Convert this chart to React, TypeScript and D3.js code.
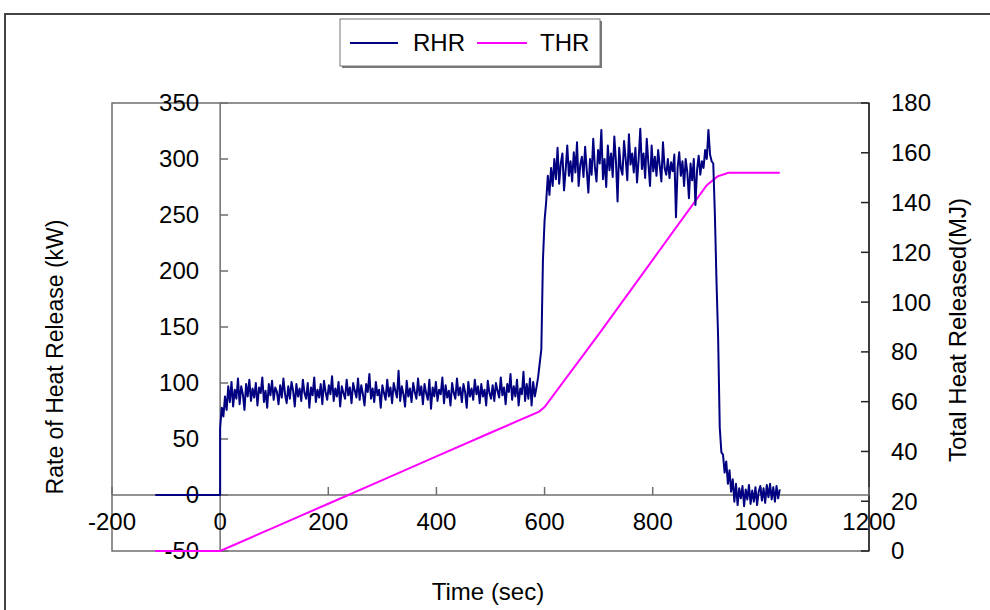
import React from "react";
import * as d3 from "d3";

const W = 990;
const H = 610;

// RHR pre-ignition segment (kW)
const rhrPreTimes = [-120, 0];
const rhrPreValues = [0, 0];

const rhrStep = 3;

// RHR low phase, t = 0 .. 588 s, every 3 s
const rhrLowStart = 0;
const rhrLow = [
  60, 78, 70, 88, 76, 97, 83, 101, 79, 94, 86, 104, 81, 97, 90, 76, 99, 88, 103, 84,
  95, 87, 100, 80, 96, 91, 105, 83, 93, 78, 99, 89, 102, 85, 96, 92, 81, 98, 87, 104,
  90, 82, 97, 86, 101, 93, 79, 99, 88, 95, 84, 103, 91, 86, 100, 78, 96, 89, 105, 83,
  94, 87, 99, 81, 102, 92, 85, 98, 90, 106, 84, 95, 88, 101, 79, 97, 91, 86, 103, 89,
  96, 82, 100, 93, 87, 104, 85, 98, 90, 80, 99, 92, 108, 86, 95, 83, 101, 89, 94, 78,
  98, 91, 85, 103, 88, 96, 82, 100, 93, 87, 111, 84, 97, 90, 79, 102, 88, 95, 83, 100,
  92, 86, 104, 89, 97, 81, 99, 91, 85, 103, 77, 96, 88, 101, 84, 94, 90, 105, 82, 98,
  87, 93, 80, 100, 91, 86, 104, 89, 96, 83, 99, 92, 78, 101, 88, 95, 85, 103, 90, 97,
  82, 99, 88, 94, 80, 102, 91, 86, 98, 84, 100, 93, 87, 105, 89, 96, 81, 99, 92, 108,
  85, 97, 88, 103, 80, 95, 90, 110, 84, 99, 86, 104, 80, 101, 88, 96, 105,
];

// RHR high phase, t = 594 .. 912 s, every 3 s
const rhrHighStart = 594;
const rhrHigh = [
  130, 210, 245, 262, 285, 268, 292, 276, 300, 282, 310, 278, 296, 305, 272, 290, 312, 285, 298, 280,
  306, 288, 315, 276, 295, 302, 284, 311, 290, 270, 300, 286, 318, 293, 280, 308, 296, 326, 282, 300,
  275, 312, 290, 305, 284, 320, 298, 262, 310, 292, 286, 316, 300, 281, 322, 295, 305, 288, 310, 279,
  300, 327, 291, 305, 283, 318, 296, 276, 312, 289, 302, 285, 308, 294, 280, 315, 292, 286, 300, 283,
  297, 289, 304, 248, 292, 306, 285, 298, 276, 300, 288, 265, 296, 281, 300, 259, 290, 303, 286, 298,
  292, 308, 300, 326, 304, 298, 296,
];

// RHR decay tail, t = 915 .. 1035 s, every 3 s
const rhrTailStart = 915;
const rhrTail = [
  250, 190, 140, 60, 38, 36, 20, 30, 10, 22, 3, 14, -6, 10, -9, 6, -3, 8, -10, 5,
  -4, 9, -8, 4, -6, 7, -9, 3, 8, -5, 6, -7, 9, -2, 10, -4, 7, -6, 8, -3, 5,
];

// THR (MJ) read at breakpoints
const thrTimes = [-120, 0, 100, 200, 300, 400, 500, 590, 600, 700, 800, 900, 920, 940, 1035];
const thrValues = [0, 0, 9.5, 19, 28.5, 38, 47.5, 56, 57.8, 87, 117, 147, 150.5, 152, 152];

const xTicks = [-200, 0, 200, 400, 600, 800, 1000, 1200];
const yLeftTicks = [-50, 0, 50, 100, 150, 200, 250, 300, 350];
const yRightTicks = [0, 20, 40, 60, 80, 100, 120, 140, 160, 180];

const FONT = "'Liberation Sans', Arial, sans-serif";

export default function App() {
  const x = d3.scaleLinear().domain([-200, 1200]).range([112, 869]);
  const yL = d3.scaleLinear().domain([-50, 350]).range([551, 103]);
  const yR = d3.scaleLinear().domain([0, 180]).range([551, 103]);

  const rhrPts: [number, number][] = [];
  rhrPreTimes.forEach((t, i) => rhrPts.push([t, rhrPreValues[i]]));
  rhrLow.forEach((v, i) => rhrPts.push([rhrLowStart + i * rhrStep, v]));
  rhrHigh.forEach((v, i) => rhrPts.push([rhrHighStart + i * rhrStep, v]));
  rhrTail.forEach((v, i) => rhrPts.push([rhrTailStart + i * rhrStep, v]));
  const thrPts: [number, number][] = thrTimes.map((t, i) => [t, thrValues[i]]);

  const rhrLine = d3.line<[number, number]>().x((d) => x(d[0])).y((d) => yL(d[1]));
  const thrLine = d3.line<[number, number]>().x((d) => x(d[0])).y((d) => yR(d[1]));

  const axisColor = "#6e6e6e";
  const x0 = x(0);
  const y0 = yL(0);
  const xl = x(-200);
  const xr = x(1200);

  return (
    <svg
      width={W}
      height={H}
      style={{ position: "absolute", left: 0, top: 0, background: "#fff" }}
      fontFamily={FONT}
    >
      <rect x={0} y={0} width={W} height={H} fill="#fff" />
      {/* outer chart border */}
      <rect x={5} y={14} width={1100} height={800} fill="none" stroke="#444" strokeWidth={2} />

      {/* plot box */}
      <rect x={xl} y={103} width={xr - xl} height={551 - 103} fill="none" stroke={axisColor} strokeWidth={1.5} />

      {/* left axis at x=0 */}
      <line x1={x0} x2={x0} y1={103} y2={551} stroke={axisColor} strokeWidth={1.5} />
      {yLeftTicks.map((t) => (
        <g key={"yl" + t}>
          <line x1={x0} x2={x0 + 8} y1={yL(t)} y2={yL(t)} stroke={axisColor} strokeWidth={1.5} />
          <text x={x0 - 21} y={yL(t)} dy="0.35em" textAnchor="end" fontSize={24} fill="#000">
            {t}
          </text>
        </g>
      ))}

      {/* right axis */}
      <line x1={xr} x2={xr} y1={103} y2={551} stroke="#222" strokeWidth={1.5} />
      {yRightTicks.map((t) => (
        <g key={"yr" + t}>
          <line x1={xr - 8} x2={xr} y1={yR(t)} y2={yR(t)} stroke="#222" strokeWidth={1.5} />
          <text x={xr + 22} y={yR(t)} dy="0.35em" textAnchor="start" fontSize={24} fill="#000">
            {t}
          </text>
        </g>
      ))}

      {/* x axis at y=0 */}
      <line x1={xl} x2={xr} y1={y0} y2={y0} stroke={axisColor} strokeWidth={1.5} />
      {xTicks.map((t) => (
        <g key={"x" + t}>
          <line x1={x(t)} x2={x(t)} y1={y0 - 8} y2={y0} stroke={axisColor} strokeWidth={1.5} />
          <text x={x(t)} y={y0 + 27} dy="0.35em" textAnchor="middle" fontSize={24} fill="#000">
            {t}
          </text>
        </g>
      ))}

      {/* series */}
      <path d={thrLine(thrPts) || ""} fill="none" stroke="#ff00ff" strokeWidth={2} />
      <path d={rhrLine(rhrPts) || ""} fill="none" stroke="#000080" strokeWidth={2} strokeLinejoin="round" />

      {/* axis titles */}
      <text x={488} y={600} textAnchor="middle" fontSize={24} fill="#000">
        Time (sec)
      </text>
      <text transform={`translate(63,357) rotate(-90)`} textAnchor="middle" fontSize={23} fill="#000">
        Rate of Heat Release (kW)
      </text>
      <text transform={`translate(966,330) rotate(-90)`} textAnchor="middle" fontSize={24} fill="#000">
        Total Heat Released(MJ)
      </text>

      {/* legend */}
      <rect x={342} y={21} width={260} height={47} fill="#777" />
      <rect x={340} y={19} width={260} height={47} fill="#fff" stroke="#777" strokeWidth={1} />
      <line x1={350} x2={398} y1={43} y2={43} stroke="#000080" strokeWidth={2} />
      <text x={413} y={43} dy="0.35em" fontSize={24} fill="#000">RHR</text>
      <line x1={477} x2={527} y1={43} y2={43} stroke="#ff00ff" strokeWidth={2} />
      <text x={540} y={43} dy="0.35em" fontSize={24} fill="#000">THR</text>
    </svg>
  );
}
